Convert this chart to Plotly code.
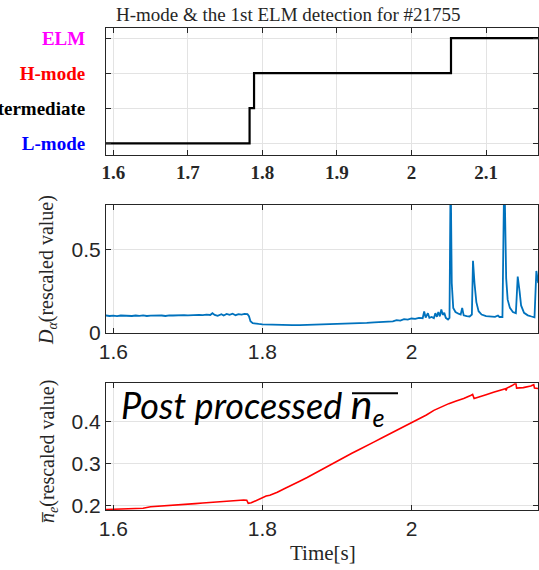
import plotly.graph_objects as go
from plotly.subplots import make_subplots

# ---------------- data ----------------
# Panel 1: detected state (0=L-mode, 1=Intermediate, 2=H-mode, 3=ELM)
state_t = [1.590, 1.7828, 1.7828, 1.7888, 1.7888, 2.0530, 2.0530, 2.170]
state_v = [0, 0, 1, 1, 2, 2, 3, 3]
state_ticks = [0, 1, 2, 3]
state_labels = ["L-mode", "Intermediate", "H-mode", "ELM"]
state_colors = ["#0000ff", "#000000", "#ff0000", "#ff00ff"]
top_xticks = [1.6, 1.7, 1.8, 1.9, 2.0, 2.1]
top_xlabels = ["1.6", "1.7", "1.8", "1.9", "2", "2.1"]

# Panel 2: D-alpha (rescaled)
da_t = [1.590, 1.595, 1.600, 1.605, 1.610, 1.615, 1.620, 1.625, 1.630, 1.635,
        1.640, 1.645, 1.650, 1.655, 1.660, 1.665, 1.670, 1.675, 1.680, 1.685,
        1.690, 1.695, 1.700, 1.705, 1.710, 1.715, 1.720, 1.725, 1.730, 1.733,
        1.736, 1.740, 1.745, 1.748, 1.752, 1.756, 1.760, 1.764, 1.768, 1.772,
        1.776, 1.780, 1.782, 1.784, 1.787, 1.790, 1.795, 1.800, 1.810, 1.820,
        1.830, 1.840, 1.850, 1.860, 1.870, 1.880, 1.890, 1.900, 1.910, 1.920,
        1.930, 1.940, 1.950, 1.960, 1.970, 1.975, 1.980, 1.985, 1.990, 1.995,
        2.000, 2.005, 2.010, 2.015, 2.017, 2.019, 2.022, 2.024, 2.027, 2.030,
        2.032, 2.034, 2.036, 2.038, 2.040, 2.042, 2.044, 2.046, 2.049, 2.051,
        2.0525, 2.054, 2.056, 2.059, 2.063, 2.066, 2.068, 2.070, 2.074, 2.078,
        2.081, 2.0825, 2.0845, 2.087, 2.090, 2.094, 2.100, 2.106, 2.112, 2.116,
        2.118, 2.122, 2.1245, 2.127, 2.129, 2.132, 2.136, 2.140, 2.1425, 2.145,
        2.147, 2.151, 2.156, 2.161, 2.165, 2.1675, 2.170]
da_v = [0.104, 0.101, 0.103, 0.100, 0.104, 0.102, 0.103, 0.101, 0.104, 0.102,
        0.105, 0.101, 0.103, 0.104, 0.102, 0.104, 0.101, 0.105, 0.104, 0.106,
        0.104, 0.106, 0.105, 0.107, 0.106, 0.108, 0.106, 0.109, 0.107, 0.118,
        0.108, 0.102, 0.112, 0.104, 0.114, 0.108, 0.115, 0.106, 0.112, 0.110,
        0.114, 0.112, 0.100, 0.070, 0.058, 0.055, 0.053, 0.051, 0.049, 0.048,
        0.047, 0.046, 0.046, 0.047, 0.048, 0.049, 0.051, 0.052, 0.055, 0.056,
        0.058, 0.059, 0.062, 0.066, 0.070, 0.068, 0.076, 0.073, 0.082, 0.079,
        0.086, 0.084, 0.090, 0.088, 0.128, 0.092, 0.118, 0.090, 0.095, 0.088,
        0.118, 0.096, 0.125, 0.099, 0.140, 0.108, 0.120, 0.090, 0.080, 0.090,
        1.000, 0.300, 0.150, 0.125, 0.115, 0.110, 0.150, 0.105, 0.100, 0.098,
        0.110, 0.435, 0.300, 0.185, 0.130, 0.110, 0.100, 0.098, 0.096, 0.104,
        0.095, 0.095, 1.000, 0.330, 0.200, 0.150, 0.125, 0.118, 0.339, 0.250,
        0.165, 0.120, 0.105, 0.098, 0.093, 0.373, 0.300]
da_yticks = [0, 0.5]
da_ylabels = ["0", "0.5"]

# Panel 3: line-averaged density (rescaled)
ne_t = [1.590, 1.600, 1.610, 1.620, 1.630, 1.640, 1.650, 1.660, 1.670, 1.680,
        1.690, 1.700, 1.710, 1.720, 1.730, 1.740, 1.750, 1.760, 1.770, 1.775,
        1.779, 1.781, 1.785, 1.790, 1.795, 1.800, 1.805, 1.810, 1.820, 1.830,
        1.840, 1.850, 1.860, 1.870, 1.880, 1.890, 1.900, 1.910, 1.920, 1.930,
        1.940, 1.950, 1.960, 1.970, 1.980, 1.990, 2.000, 2.010, 2.020, 2.030,
        2.040, 2.050, 2.060, 2.070, 2.080, 2.082, 2.084, 2.090, 2.100, 2.110,
        2.120, 2.126, 2.127, 2.128, 2.135, 2.140, 2.141, 2.150, 2.160, 2.164,
        2.165, 2.170]
ne_v = [0.1910, 0.1915, 0.1920, 0.1925, 0.1932, 0.1940, 0.1975, 0.1985, 0.1995, 0.2010,
        0.2025, 0.2035, 0.2050, 0.2065, 0.2080, 0.2095, 0.2105, 0.2115, 0.2125, 0.2135,
        0.2130, 0.2055, 0.2070, 0.2110, 0.2150, 0.2200, 0.2230, 0.2250, 0.2320, 0.2410,
        0.2490, 0.2580, 0.2670, 0.2770, 0.2870, 0.2960, 0.3060, 0.3150, 0.3250, 0.3340,
        0.3440, 0.3520, 0.3610, 0.3700, 0.3800, 0.3890, 0.3980, 0.4070, 0.4160, 0.4270,
        0.4350, 0.4430, 0.4490, 0.4550, 0.4630, 0.4650, 0.4550, 0.4580, 0.4640, 0.4700,
        0.4760, 0.4785, 0.4745, 0.4800, 0.4860, 0.4920, 0.4800, 0.4810, 0.4850, 0.4880,
        0.4800, 0.4790]
ne_yticks = [0.2, 0.3, 0.4]
ne_ylabels = ["0.2", "0.3", "0.4"]

low_xticks = [1.6, 1.8, 2.0]
low_xlabels = ["1.6", "1.8", "2"]

# ---------------- figure ----------------
fig = make_subplots(rows=3, cols=1)

fig.add_trace(go.Scatter(x=state_t, y=state_v, mode="lines",
                         line=dict(color="black", width=2.2)), row=1, col=1)
fig.add_trace(go.Scatter(x=da_t, y=da_v, mode="lines",
                         line=dict(color="#0072BD", width=1.8)), row=2, col=1)
fig.add_trace(go.Scatter(x=ne_t, y=ne_v, mode="lines",
                         line=dict(color="#ff0000", width=1.6)), row=3, col=1)

axis_common = dict(showline=True, linecolor="#262626", linewidth=1, mirror="ticks",
                   ticks="inside", ticklen=5, tickcolor="#262626", automargin=False,
                   showgrid=True, gridcolor="#e3e3e3", gridwidth=1, zeroline=False)
xr = [1.5902, 2.1697]
sans = "Liberation Sans"
serif = "Liberation Serif"

fig.update_layout(
    width=539, height=570,
    margin=dict(l=106, r=1, t=28, b=60, autoexpand=False),
    paper_bgcolor="white", plot_bgcolor="white",
    showlegend=False,
    xaxis=dict(domain=[0, 1], range=xr, tickvals=top_xticks,
               ticktext=["<b>%s</b>" % s for s in top_xlabels],
               tickfont=dict(family=serif, size=19, color="#262626"),
               **axis_common),
    yaxis=dict(domain=[0.7365, 1.0], range=[-0.334, 3.286], tickvals=state_ticks,
               ticktext=["<b><span style='color:%s'>%s</span></b>" % (c, l)
                         for c, l in zip(state_colors, state_labels)],
               tickfont=dict(family=serif, size=19),
               ticklabelstandoff=16, **axis_common),
    xaxis2=dict(domain=[0, 1], range=xr, tickvals=low_xticks, ticktext=low_xlabels,
                tickfont=dict(family=sans, size=21, color="#262626"),
                **axis_common),
    yaxis2=dict(domain=[0.3678, 0.6328], range=[0, 0.772], tickvals=da_yticks,
                ticktext=da_ylabels,
                tickfont=dict(family=sans, size=21, color="#262626"),
                **axis_common),
    xaxis3=dict(domain=[0, 1], range=xr, tickvals=low_xticks, ticktext=low_xlabels,
                tickfont=dict(family=sans, size=21, color="#262626"),
                **axis_common),
    yaxis3=dict(domain=[0, 0.2629], range=[0.1898, 0.4914], tickvals=ne_yticks,
                ticktext=ne_ylabels,
                tickfont=dict(family=sans, size=21, color="#262626"),
                **axis_common),
)

fig.add_annotation(text="H-mode &amp; the 1st ELM detection for #21755",
                   xref="paper", yref="paper", x=0.4213, y=1.027,
                   xanchor="center", yanchor="middle", showarrow=False,
                   font=dict(family=serif, size=19, color="#262626"))
fig.add_annotation(text="<i>D</i><sub><i>α</i></sub>(rescaled value)",
                   xref="paper", yref="paper", x=-0.134, y=0.498, textangle=-90,
                   xanchor="center", yanchor="middle", showarrow=False,
                   font=dict(family=serif, size=20, color="#262626"))
fig.add_annotation(text="<i>n̅</i><sub><i>e</i></sub>(rescaled value)",
                   xref="paper", yref="paper", x=-0.134, y=0.122, textangle=-90,
                   xanchor="center", yanchor="middle", showarrow=False,
                   font=dict(family=serif, size=20, color="#262626"))
fig.add_annotation(text="Time[s]",
                   xref="paper", yref="paper", x=0.502, y=-0.089,
                   xanchor="center", yanchor="middle", showarrow=False,
                   font=dict(family=serif, size=21, color="#262626"))
fig.add_annotation(text="<i>Post processed <span style='font-size:41px'>n</span><sub>e</sub></i>",
                   xref="paper", yref="paper", x=0.031, y=0.216,
                   xanchor="left", yanchor="middle", showarrow=False,
                   font=dict(family="Lato", size=36, color="black"))
# overline above n_e
fig.add_shape(type="line", xref="paper", yref="paper",
              x0=(352 - 106) / 432, x1=(398 - 106) / 432,
              y0=(510 - 393.3) / 482, y1=(510 - 393.3) / 482,
              line=dict(color="black", width=2))

fig.write_html("out.html", config={"displayModeBar": False},
               post_script="document.body.style.margin='0';document.body.style.padding='0';")
